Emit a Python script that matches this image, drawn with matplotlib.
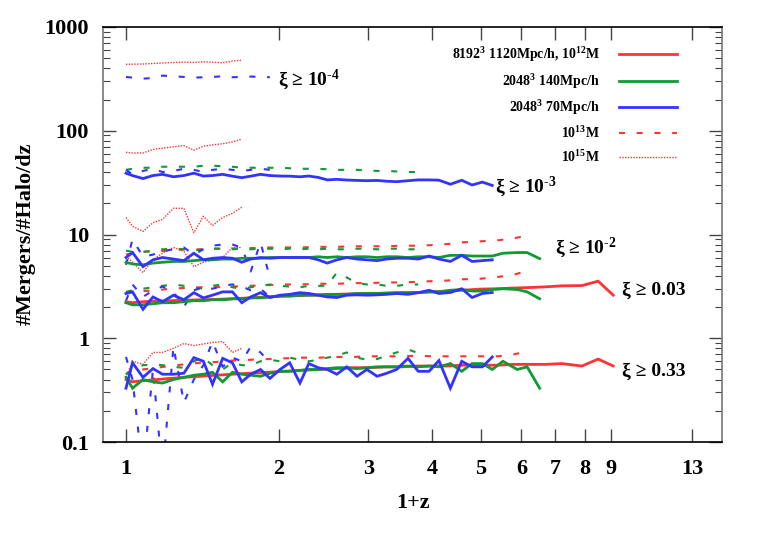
import matplotlib
matplotlib.use("Agg")
import matplotlib.pyplot as plt
from matplotlib.lines import Line2D
from matplotlib.ticker import FixedLocator, NullFormatter, NullLocator

plt.rcParams['font.family'] = ['Liberation Serif', 'DejaVu Serif']
plt.rcParams['font.weight'] = 'bold'
plt.rcParams['mathtext.fontset'] = 'custom'
plt.rcParams['mathtext.rm'] = 'Liberation Serif:bold'
plt.rcParams['mathtext.it'] = 'Liberation Serif:bold'
plt.rcParams['mathtext.bf'] = 'Liberation Serif:bold'

# ---------------- data ----------------
thresholds = ['1e-4', '1e-3', '1e-2', '0.03', '0.33']
thr_labels = ['ξ ≥ 10$^{‐4}$', 'ξ ≥ 10$^{‐3}$', 'ξ ≥ 10$^{‐2}$', 'ξ ≥ 0.03', 'ξ ≥ 0.33']
thr_label_x = [1.99, 5.32, 6.99, 9.47, 9.47]
thr_label_y = [314, 29.1, 7.5, 2.93, 0.477]

# 2048^3 70 Mpc/h snapshots (1+z)
x_70 = [1.00, 1.03, 1.08, 1.13, 1.18, 1.24, 1.30, 1.36, 1.42, 1.48, 1.55, 1.62, 1.69,
        1.76, 1.84, 1.92, 2.01, 2.10, 2.20, 2.29, 2.39, 2.49, 2.60, 2.72, 2.85, 2.98,
        3.12, 3.26, 3.41, 3.59, 3.76, 3.95, 4.13, 4.35, 4.58, 4.80, 5.03, 5.26]
# 2048^3 140 Mpc/h snapshots
x_140 = x_70 + [5.52, 5.89, 6.16, 6.52]
# 8192^3 1120 Mpc/h snapshots
x_8192 = [1.00, 1.03, 1.08, 1.15, 1.22, 1.30, 1.40, 1.50, 1.62, 1.75, 1.90, 2.05, 2.2,
          2.4, 2.6, 2.8, 3.0, 3.25, 3.5, 3.75, 4.0, 4.3, 4.6, 5.0, 5.4, 5.8, 6.2, 6.7,
          7.2, 7.9, 8.5, 9.1]
x_8192_m13 = x_8192[:27]
x_8192_m15 = [1.00, 1.03, 1.08, 1.13, 1.18, 1.24, 1.30, 1.36, 1.42, 1.48, 1.55, 1.62, 1.69]
x_140_m13 = x_140[:31]
x_70_m13 = x_70[:16]

# red solid: 8192^3, 1e12 M
red_solid_003 = [2.25, 2.2, 2.25, 2.28, 2.3, 2.32, 2.35, 2.37, 2.4, 2.45, 2.5, 2.55, 2.58,
                 2.62, 2.65, 2.68, 2.7, 2.72, 2.74, 2.76, 2.8, 2.85, 2.9, 2.98, 3.0, 3.05,
                 3.08, 3.13, 3.2, 3.22, 3.55, 2.6]
red_solid_033 = [0.40, 0.38, 0.39, 0.40, 0.41, 0.42, 0.43, 0.44, 0.45, 0.46, 0.47, 0.48,
                 0.49, 0.50, 0.51, 0.52, 0.52, 0.53, 0.53, 0.54, 0.54, 0.54, 0.55, 0.55,
                 0.55, 0.56, 0.56, 0.56, 0.57, 0.54, 0.63, 0.54]

# red dashed: 8192^3, 1e13 M
red_dash_1e2 = [6.4, 6.6, 6.8, 6.9, 7.0, 7.2, 7.2, 7.3, 7.3, 7.4, 7.5, 7.5, 7.5, 7.6, 7.6,
                7.7, 7.7, 7.7, 7.8, 7.8, 7.9, 8.1, 8.4, 8.6, 8.8, 9.2, 9.8]
red_dash_003 = [2.7, 2.8, 2.85, 2.9, 3.0, 3.05, 3.1, 3.1, 3.15, 3.2, 3.25, 3.3, 3.3, 3.35,
                3.35, 3.4, 3.4, 3.45, 3.45, 3.5, 3.55, 3.6, 3.7, 3.75, 3.9, 4.1, 4.5]
red_dash_033 = [0.45, 0.50, 0.50, 0.52, 0.54, 0.56, 0.58, 0.59, 0.61, 0.62, 0.63, 0.64,
                0.65, 0.65, 0.66, 0.66, 0.67, 0.67, 0.67, 0.68, 0.67, 0.67, 0.67, 0.67,
                0.67, 0.70, 0.75]

# red dotted: 8192^3, 1e15 M
red_dot_1e4 = [437, 438, 440, 445, 450, 455, 458, 455, 462, 458, 452, 470, 478]
red_dot_1e3 = [62, 61, 61, 66, 68, 70, 72, 65, 71, 73, 75, 78, 83]
red_dot_1e2 = [14.6, 12.0, 10.7, 13.0, 14.0, 17.9, 17.9, 10.4, 15.0, 12.2, 14.6, 16.0, 18.3]
red_dot_003 = [6.2, 5.4, 4.3, 5.7, 6.6, 7.5, 6.9, 4.9, 5.4, 5.7, 6.0, 7.5, 7.5]
red_dot_033 = [0.42, 0.60, 0.56, 0.73, 0.73, 0.80, 0.89, 0.85, 0.88, 0.91, 0.93, 0.73, 0.80]

# green solid: 2048^3 140 Mpc/h
green_solid_1e2 = [5.4, 5.2, 5.1, 5.3, 5.4, 5.5, 5.5, 5.6, 5.7, 5.7, 5.8, 5.8, 5.9, 5.9,
                   5.9, 6.0, 6.0, 6.0, 6.0, 6.0, 6.1, 6.0, 6.1, 6.0, 6.1, 6.1, 6.0, 6.1,
                   6.1, 6.0, 6.1, 6.1, 6.0, 6.3, 6.3, 6.2, 6.2, 6.2, 6.6, 6.7, 6.7, 5.85]
green_solid_003 = [2.2, 2.1, 2.1, 2.15, 2.2, 2.2, 2.25, 2.3, 2.3, 2.35, 2.35, 2.4, 2.4,
                   2.45, 2.45, 2.5, 2.55, 2.55, 2.6, 2.6, 2.6, 2.65, 2.65, 2.65, 2.7, 2.7,
                   2.7, 2.72, 2.75, 2.75, 2.75, 2.8, 2.8, 2.9, 2.95, 2.85, 2.85, 2.95,
                   3.0, 2.95, 2.8, 2.4]
green_solid_033 = [0.42, 0.33, 0.40, 0.38, 0.37, 0.40, 0.42, 0.44, 0.45, 0.47, 0.38, 0.47,
                   0.45, 0.44, 0.43, 0.46, 0.48, 0.48, 0.49, 0.50, 0.50, 0.51, 0.52, 0.52,
                   0.51, 0.52, 0.53, 0.53, 0.53, 0.54, 0.53, 0.54, 0.53, 0.57, 0.48, 0.57,
                   0.57, 0.50, 0.60, 0.50, 0.53, 0.33]

# green dashed: 2048^3 140 Mpc/h, 1e13 M
green_dash_1e3 = [42, 43, 44, 44, 45, 45, 45, 45, 46, 46, 45.5, 45, 44, 44, 44, 44, 44, 43.5,
                  43, 43, 43, 42.5, 42, 42, 42, 41.5, 41, 41, 40.5, 40, 40]
green_dash_1e2 = [7.0, 6.8, 6.8, 7.0, 7.2, 7.3, 7.2, 7.0, 7.2, 7.3, 7.3, 7.2, 7.3, 7.2, 7.3,
                  7.3, 7.2, 7.3, 7.2, 7.3, 7.2, 7.3, 7.2, 7.2, 7.3, 7.3, 7.2, 7.3, 7.3, 7.2, 7.2]
green_dash_003 = [2.8, 2.9, 3.0, 3.1, 3.2, 3.3, 3.2, 3.1, 3.0, 3.2, 3.3, 3.1, 3.0, 3.1, 3.2,
                  3.3, 3.2, 3.15, 3.1, 3.2, 3.2, 3.2, 4.3, 3.85, 3.4, 3.3, 3.3, 3.2, 3.2, 3.3, 3.3]
green_dash_033 = [0.45, 0.50, 0.55, 0.56, 0.55, 0.53, 0.52, 0.60, 0.65, 0.55, 0.50, 0.58,
                  0.55, 0.55, 0.60, 0.62, 0.60, 0.65, 0.62, 0.60, 0.62, 0.65, 0.68, 0.73,
                  0.65, 0.62, 0.63, 0.68, 0.73, 0.78, 0.72]

# blue solid: 2048^3 70 Mpc/h
blue_solid_1e3 = [39, 37, 34.6, 37, 38, 36, 37, 39, 36.6, 37, 38, 36.5, 35.3, 36.5, 38, 37,
                  36.6, 36.5, 36, 36.6, 35.5, 33.6, 34, 33.5, 33.2, 33, 33.2, 32.6, 32.3,
                  33, 33.6, 33.6, 33.4, 30.5, 33.3, 30, 32, 29.7]
blue_solid_1e2 = [6.0, 6.7, 4.9, 5.7, 6.0, 5.8, 5.6, 6.6, 5.7, 5.9, 6.0, 5.9, 5.4, 5.8, 6.0,
                  5.9, 6.0, 6.0, 6.0, 6.0, 5.7, 5.3, 5.7, 6.0, 5.8, 5.7, 5.6, 5.8, 5.9, 5.9,
                  5.8, 6.2, 5.8, 5.5, 6.3, 5.5, 5.6, 5.7]
blue_solid_003 = [2.7, 2.8, 1.9, 2.5, 2.25, 2.6, 2.35, 2.75, 2.45, 2.6, 2.8, 2.8, 2.2, 2.5,
                  2.75, 2.47, 2.6, 2.65, 2.75, 2.7, 2.6, 2.5, 2.47, 2.6, 2.62, 2.6, 2.62,
                  2.65, 2.7, 2.65, 2.75, 2.9, 2.7, 2.76, 3.0, 2.47, 2.7, 2.76]
blue_solid_033 = [0.33, 0.58, 0.42, 0.51, 0.45, 0.45, 0.46, 0.65, 0.60, 0.36, 0.64, 0.58,
                  0.38, 0.45, 0.50, 0.41, 0.50, 0.58, 0.37, 0.57, 0.52, 0.50, 0.45, 0.53,
                  0.43, 0.50, 0.43, 0.46, 0.50, 0.64, 0.48, 0.48, 0.61, 0.33, 0.60, 0.53,
                  0.53, 0.66]

# blue dashed: 2048^3 70 Mpc/h, 1e13 M
blue_dash_1e4 = [330, 325, 318, 322, 340, 335, 330, 325, 328, 330, 335, 328, 330, 333, 330, 328]
blue_dash_1e3 = [42, 38, 41, 43, 40, 41, 43, 42, 40, 42, 43, 42, 41, 42, 43, 42]
blue_dash_1e2 = [5.1, 9.0, 6.1, 6.4, 6.9, 7.2, 7.5, 6.4, 7.2, 7.8, 8.0, 8.0, 7.5, 4.4, 8.4, 3.8]
blue_dash_003 = [2.3, 3.3, 2.5, 2.9, 3.15, 2.8, 2.0, 2.9, 3.1, 3.0, 3.2, 3.3, 3.15, 2.9, 3.0, 2.5]
blue_dash_033 = [0.66, 0.40, 0.05, 0.5, 0.05, 0.83, 0.24, 0.40, 0.55, 0.93, 0.53, 0.65,
                 0.60, 0.83, 0.73, 0.58]

legend_labels = ['8192$^3$ 1120Mpc/h, 10$^{12}$M', '2048$^3$ 140Mpc/h',
                 '2048$^3$ 70Mpc/h', '10$^{13}$M', '10$^{15}$M']

x_ticks = [1, 2, 3, 4, 5, 6, 7, 8, 9, 13]
y_ticks = [0.1, 1, 10, 100, 1000]
y_ticklabels = ['0.1', '1', '10', '100', '1000']

# ---------------- style ----------------
RED = '#ff3333'
GREEN = '#119933'
BLUE = '#3333ff'
DASH = (2.9, 5.6)
DOT = (1.0, 1.0)

W, H = 763, 534
fig = plt.figure(figsize=(W / 100, H / 100), dpi=100)
ax = fig.add_axes([103 / W, 1 - 442 / H, (722 - 103) / W, (442 - 27) / H])
ax.set_xscale('log')
ax.set_yscale('log')
ax.set_xlim(0.901, 14.9)
ax.set_ylim(0.1, 1000)

def dotted(x, y):
    ax.plot(x, y, color=RED, lw=1.0, dashes=DOT)

def dashed(x, y, c):
    ax.plot(x, y, color=c, lw=1.5, dashes=DASH)

def solid(x, y, c):
    ax.plot(x, y, color=c, lw=2.0, solid_joinstyle='miter')

for y in [red_dot_1e4, red_dot_1e3, red_dot_1e2, red_dot_003, red_dot_033]:
    dotted(x_8192_m15, y)
for y in [red_dash_1e2, red_dash_003, red_dash_033]:
    dashed(x_8192_m13, y, RED)
for y in [green_dash_1e3, green_dash_1e2, green_dash_003, green_dash_033]:
    dashed(x_140_m13, y, GREEN)
for y in [blue_dash_1e4, blue_dash_1e3, blue_dash_1e2, blue_dash_003, blue_dash_033]:
    dashed(x_70_m13, y, BLUE)
for y in [red_solid_003, red_solid_033]:
    solid(x_8192, y, RED)
for y in [green_solid_1e2, green_solid_003, green_solid_033]:
    solid(x_140, y, GREEN)
for y in [blue_solid_1e3, blue_solid_1e2, blue_solid_003, blue_solid_033]:
    solid(x_70, y, BLUE)

for lab, tx, ty in zip(thr_labels, thr_label_x, thr_label_y):
    ax.text(tx, ty, lab, fontsize=14, fontweight='bold', ha='left', va='center')

# axes styling
ax.xaxis.set_major_locator(FixedLocator(x_ticks))
ax.xaxis.set_minor_locator(NullLocator())
ax.set_xticklabels([str(t) for t in x_ticks])
ax.xaxis.set_minor_formatter(NullFormatter())
ax.yaxis.set_major_locator(FixedLocator(y_ticks))
ax.set_yticklabels(y_ticklabels)
ax.yaxis.set_minor_formatter(NullFormatter())
ax.tick_params(which='both', direction='in', top=True, right=True, color='#444444')
ax.tick_params(which='major', length=9.5, width=1.0, labelsize=16, pad=10)
ax.tick_params(which='minor', length=5, width=0.8)
ax.tick_params(axis='x', which='major', pad=12)
for lbl in ax.get_xticklabels() + ax.get_yticklabels():
    lbl.set_fontweight('bold')
for s in ['left', 'right']:
    ax.spines[s].set_color('#777777')
for s in ['top', 'bottom']:
    ax.spines[s].set_color('black')
for s in ax.spines.values():
    s.set_linewidth(1.2)

fig.text(413 / W, 1 - 508 / H, '1+z', fontsize=16, fontweight='bold',
         ha='center', va='baseline')
fig.text(26 / W, 1 - 234 / H, '#Mergers/#Halo/dz', fontsize=16, fontweight='bold',
         ha='center', va='center', rotation=90)

handles = [Line2D([], [], color=RED, lw=2.0),
           Line2D([], [], color=GREEN, lw=2.0),
           Line2D([], [], color=BLUE, lw=2.0),
           Line2D([], [], color=RED, lw=1.5, dashes=DASH),
           Line2D([], [], color=RED, lw=1.0, dashes=DOT)]
leg = ax.legend(handles, legend_labels, loc='upper right',
                bbox_to_anchor=(677 / W, 1 - 45 / H), bbox_transform=fig.transFigure,
                frameon=False, markerfirst=False, fontsize=10, handlelength=4.2,
                handletextpad=1.35, labelspacing=0.56, borderpad=0, borderaxespad=0)
for t in leg.get_texts():
    t.set_fontweight('bold')

fig.savefig('out.png', dpi=100)
